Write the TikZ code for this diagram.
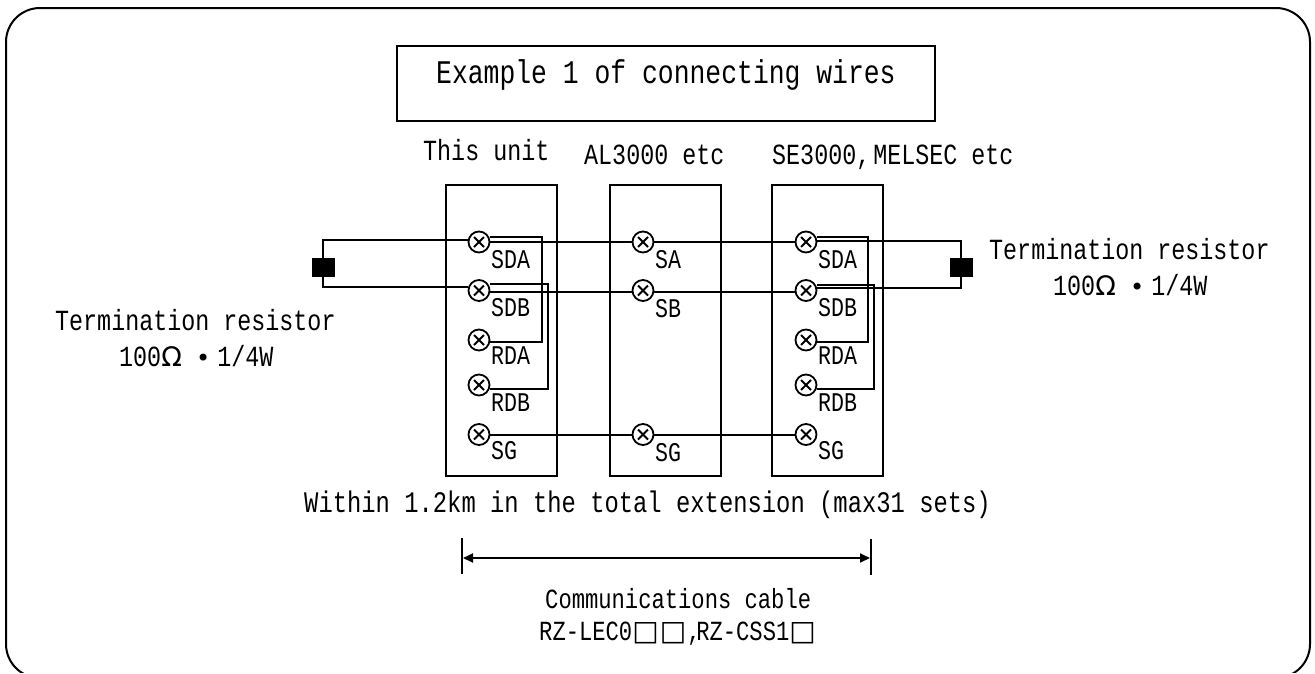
\documentclass[tikz,border=0pt]{standalone}
\usepackage{fontspec}
\usetikzlibrary{arrows.meta}
\newfontfamily\gothic[FakeStretch=0.8]{Liberation Mono}
\newfontfamily\symf{DejaVu Sans}
\newcommand{\opensq}{\makebox[27.5pt][l]{\symf\fontsize{28}{28}\selectfont □}}
\newcommand{\ohmtxt}{100\makebox[28pt][l]{\symf\fontsize{27}{27}\selectfont Ω}\makebox[28pt][c]{\raisebox{0pt}{\symf\fontsize{24}{24}\selectfont •}}1/4W}
\tikzset{
  x=1pt,y=-1pt,
  wire/.style={line width=2pt,black},
  unitbox/.style={draw,line width=2pt,minimum width=111pt,minimum height=291pt,inner sep=0pt,anchor=north west},
  term/.style={draw,circle,line width=1.8pt,minimum size=21pt,inner sep=0pt,
    path picture={
      \draw[line width=1.8pt] ([shift={(-5pt,-5pt)}]path picture bounding box.center)--([shift={(5pt,5pt)}]path picture bounding box.center);
      \draw[line width=1.8pt] ([shift={(-5pt,5pt)}]path picture bounding box.center)--([shift={(5pt,-5pt)}]path picture bounding box.center);}},
  resist/.style={draw,fill=black,minimum width=22pt,minimum height=18pt,inner sep=0pt},
  txt/.style={inner sep=0pt,anchor=base west,font=\gothic\fontsize{29.2}{30}\selectfont},
  wtxt/.style={inner sep=0pt,anchor=base west,font=\gothic\fontsize{29.8}{30}\selectfont},
  ctxt/.style={inner sep=0pt,anchor=base west,font=\gothic\fontsize{27.7}{30}\selectfont},
  lbl/.style={inner sep=0pt,anchor=base west,font=\gothic\fontsize{27}{28}\selectfont},
  titletxt/.style={inner sep=0pt,anchor=base west,font=\gothic\fontsize{33}{34}\selectfont},
}
\begin{document}
\begin{tikzpicture}
\useasboundingbox (0,0) rectangle (1315,673);
\begin{scope}
\clip (0,0) rectangle (1315,672);
\draw[line width=2pt,rounded corners=34pt] (6,8) rectangle (1310,678);
\end{scope}
\node[draw,line width=1.8pt,minimum width=538pt,minimum height=75pt,inner sep=0pt,anchor=north west] (titlebox) at (396,45) {};
\node[titletxt] (title) at (436,83) {Example 1 of connecting wires};
\node[txt] (hA) at (423,160) {This unit};
\node[txt] (hB) at (584,164) {AL3000 etc};
\node[txt] (hC) at (772,164) {SE3000,\hspace{3pt}MELSEC etc};
\node[unitbox] (boxA) at (445,184) {};
\node[unitbox] (boxB) at (609,184) {};
\node[unitbox] (boxC) at (771,184) {};
% terminals
\foreach \n/\x/\y in {asda/479/242,asdb/479/290.5,arda/479/340,ardb/479/385,asg/479/434.5,
  bsa/643/242,bsb/643/290.5,bsg/643/434.5,
  csda/806/242,csdb/806/290.5,crda/806/340,crdb/806/385,csg/806/434.5}
  \node[term] (\n) at (\x,\y) {};
% terminal labels
\foreach \n/\t/\x/\y in {la1/SDA/491/268,la2/SDB/491/316,la3/RDA/491/364,la4/RDB/491/411,la5/SG/491/459,
  lb1/SA/655/268,lb2/SB/655/317,lb3/SG/655/461,
  lc1/SDA/818/268,lc2/SDB/818/316,lc3/RDA/818/364,lc4/RDB/818/411,lc5/SG/818/459}
  \node[lbl] (\n) at (\x,\y) {\t};
% resistors
\node[resist] (rl) at (323,267) {};
\node[resist] (rr) at (961,267.5) {};
% bus wires
\draw[wire] (asda) -- (bsa);
\draw[wire] (bsa) -- (csda);
\draw[wire] ([yshift=-1pt]asdb.east) -- ([yshift=-1pt]bsb.west);
\draw[wire] ([yshift=-1pt]bsb.east) -- ([yshift=-1pt]csdb.west);
\draw[wire] (asg) -- (bsg);
\draw[wire] (bsg) -- (csg);
% termination loops
\coordinate (wl1) at (323,240);
\coordinate (wl2) at (323,287);
\coordinate (wr1) at (961,240.5);
\coordinate (wr2) at (961,288);
\draw[wire] (rl.north) -- (wl1) -- (wl1 -| asda.west);
\draw[wire] (rl.south) -- (wl2) -- (wl2 -| asdb.west);
\draw[wire] (rr.north) -- (wr1) -- (wr1 -| csda.east);
\draw[wire] (rr.south) -- (wr2) -- (wr2 -| csdb.east);
% jumpers
\coordinate (j1) at (542,237);
\coordinate (j2) at (548,284);
\coordinate (j3) at (868,237);
\coordinate (j4) at (874,285);
\coordinate (k1) at (542,342);
\coordinate (k2) at (548,389);
\coordinate (k3) at (868,342);
\coordinate (k4) at (874,389);
\draw[wire] (j1 -| asda.east) -- (j1) -- (k1) -- (k1 -| arda.east);
\draw[wire] (j2 -| asdb.east) -- (j2) -- (k2) -- (k2 -| ardb.east);
\draw[wire] (j3 -| csda.east) -- (j3) -- (k3) -- (k3 -| crda.east);
\draw[wire] (j4 -| csdb.east) -- (j4) -- (k4) -- (k4 -| crdb.east);
% notes
\node[txt] (tl1) at (55,330) {Termination resistor};
\node[txt] (tl2) at (119,366) {\ohmtxt};
\node[txt] (tr1) at (989,259) {Termination resistor};
\node[txt] (tr2) at (1053,295) {\ohmtxt};
\node[wtxt] (within) at (304,512) {Within 1.2km in the total extension (max31 sets)};
% dimension
\coordinate (dl1) at (462,538);
\coordinate (dl2) at (462,574);
\coordinate (dr1) at (871,539);
\coordinate (dr2) at (871,575);
\draw[line width=1.8pt] (dl1) -- (dl2);
\draw[line width=1.8pt] (dr1) -- (dr2);
\coordinate (da) at (463,558);
\coordinate (db) at (870,558);
\draw[line width=1.8pt,{Triangle[length=10pt,width=9pt]}-{Triangle[length=10pt,width=9pt]}] (da) -- (db);
\node[ctxt] (cc) at (545,608) {Communications cable};
\node[ctxt] (rz) at (539,640) {RZ-LEC0\opensq\opensq\makebox[9pt][l]{,}RZ-CSS1\opensq};
\end{tikzpicture}
\end{document}
